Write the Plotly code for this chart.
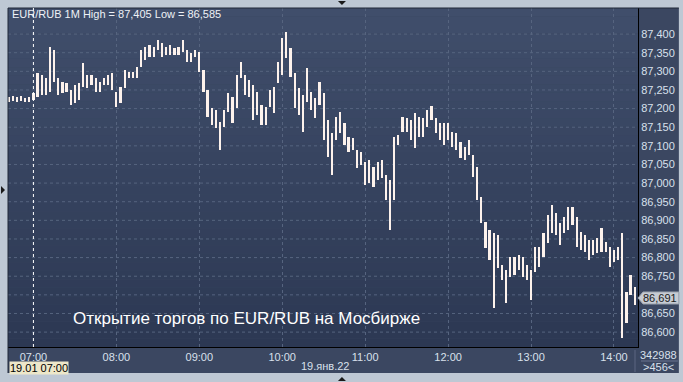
import plotly.graph_objects as go
import pandas as pd

# ---------------- data (3-minute high/low ranges) ----------------
start_time = "2022-01-19 06:42"
highs = [
    87.231, 87.234, 87.231, 87.234, 87.228, 87.231, 87.242, 87.295, 87.290, 87.282,
    87.365, 87.357, 87.282, 87.271, 87.268, 87.250, 87.263, 87.268, 87.322, 87.290,
    87.290, 87.282, 87.271, 87.282, 87.290, 87.295, 87.244, 87.258, 87.303, 87.298,
    87.298, 87.311, 87.357, 87.365, 87.370, 87.365, 87.384, 87.376, 87.365, 87.370,
    87.362, 87.365, 87.384, 87.357, 87.349, 87.357, 87.352, 87.303, 87.250, 87.201,
    87.196, 87.164, 87.196, 87.242, 87.231, 87.290, 87.325, 87.290, 87.277, 87.263,
    87.244, 87.209, 87.204, 87.250, 87.258, 87.325, 87.389, 87.405, 87.362, 87.295,
    87.255, 87.236, 87.309, 87.244, 87.228, 87.271, 87.242, 87.169, 87.134, 87.177,
    87.191, 87.161, 87.123, 87.121, 87.089, 87.083, 87.056, 87.062, 87.043, 87.056,
    87.062, 87.021, 87.008, 87.123, 87.129, 87.177, 87.175, 87.169, 87.188, 87.177,
    87.175, 87.196, 87.207, 87.175, 87.161, 87.161, 87.161, 87.137, 87.134, 87.110,
    87.097, 87.115, 87.075, 87.043, 86.962, 86.895, 86.874, 86.866, 86.860, 86.780,
    86.766, 86.801, 86.801, 86.807, 86.801, 86.780, 86.766, 86.828, 86.828, 86.866,
    86.914, 86.941, 86.919, 86.893, 86.909, 86.936, 86.936, 86.909, 86.868, 86.860,
    86.847, 86.847, 86.852, 86.879, 86.842, 86.828, 86.820, 86.828, 86.866, 86.707,
    86.753, 86.721,
]
lows = [
    87.217, 87.220, 87.217, 87.220, 87.217, 87.217, 87.223, 87.231, 87.236, 87.236,
    87.244, 87.271, 87.236, 87.242, 87.244, 87.209, 87.215, 87.223, 87.258, 87.255,
    87.263, 87.244, 87.244, 87.263, 87.263, 87.250, 87.204, 87.215, 87.255, 87.282,
    87.282, 87.282, 87.311, 87.330, 87.338, 87.338, 87.357, 87.338, 87.344, 87.344,
    87.344, 87.344, 87.352, 87.325, 87.325, 87.338, 87.298, 87.244, 87.177, 87.156,
    87.148, 87.089, 87.150, 87.191, 87.161, 87.201, 87.282, 87.236, 87.231, 87.169,
    87.183, 87.156, 87.156, 87.204, 87.188, 87.268, 87.290, 87.336, 87.285, 87.201,
    87.183, 87.137, 87.217, 87.196, 87.175, 87.209, 87.115, 87.070, 87.021, 87.115,
    87.134, 87.102, 87.083, 87.089, 87.040, 87.048, 86.995, 87.000, 86.989, 87.008,
    87.013, 86.954, 86.874, 86.954, 87.102, 87.137, 87.137, 87.115, 87.094, 87.123,
    87.123, 87.150, 87.169, 87.134, 87.115, 87.102, 87.115, 87.097, 87.089, 87.067,
    87.062, 87.075, 87.016, 86.954, 86.893, 86.825, 86.793, 86.664, 86.772, 86.740,
    86.678, 86.748, 86.753, 86.766, 86.748, 86.740, 86.686, 86.761, 86.774, 86.801,
    86.839, 86.866, 86.860, 86.833, 86.866, 86.874, 86.887, 86.828, 86.820, 86.815,
    86.793, 86.807, 86.812, 86.815, 86.815, 86.774, 86.788, 86.793, 86.585, 86.624,
    86.699, 86.672,
]
last_price = 86.691
# price-axis labels (86,700 is hidden behind the last-price box)
ytick_vals = [86.600, 86.650, 86.750, 86.800, 86.850, 86.900, 86.950, 87.000,
              87.050, 87.100, 87.150, 87.200, 87.250, 87.300, 87.350, 87.400]
grid_vals = [86.600, 86.650, 86.700, 86.750, 86.800, 86.850, 86.900, 86.950, 87.000,
             87.050, 87.100, 87.150, 87.200, 87.250, 87.300, 87.350, 87.400]
volume_text = "342988"
count_text = ">456<"
title_text = "EUR/RUB 1M High = 87,405 Low = 86,585"
caption_text = "Открытие торгов по EUR/RUB на Мосбирже"
date_text = "19.янв.22"
cursor_text = "19.01 07:00"
cursor_time = "2022-01-19 07:00"

times = pd.date_range(start_time, periods=len(highs), freq="3min")
spans = [h - l for h, l in zip(highs, lows)]

# ---------------- geometry helpers (pixel -> paper) ----------------
W, H = 683, 382
L, R, T, B = 8, 640, 8, 347


def px(x):
    return (x - L) / (R - L)


def py(y):
    return (B - y) / (B - T)


fig = go.Figure()
fig.add_trace(go.Bar(
    x=times, y=spans, base=lows,
    width=95000,
    marker=dict(color="#fdf2ec", line=dict(width=0)),
    hoverinfo="skip",
))

shapes = []
# dark frame / axis panels
shapes.append(dict(type="rect", xref="paper", yref="paper", layer="below",
                   x0=px(8), x1=px(681), y0=py(373), y1=py(8),
                   fillcolor="#3b4761", line=dict(width=0)))
# vertical gradient of plot area
nb = 40
c_top = (0x40, 0x4e, 0x6b)
c_bot = (0x2c, 0x38, 0x53)
for i in range(nb):
    t = (i + 0.5) / nb
    c = tuple(int(round(a + (b - a) * t)) for a, b in zip(c_top, c_bot))
    shapes.append(dict(type="rect", xref="paper", yref="paper", layer="below",
                       x0=0, x1=1, y0=1 - (i + 1) / nb, y1=1 - i / nb,
                       fillcolor="rgb(%d,%d,%d)" % c, line=dict(width=0)))
# horizontal dashed grid at every 0.05
for g in grid_vals:
    shapes.append(dict(type="line", xref="paper", yref="y", layer="below",
                       x0=0, x1=1, y0=g, y1=g,
                       line=dict(color="#56647f", width=1, dash="3px,3px")))
# frame edges
shapes.append(dict(type="line", xref="paper", yref="paper", x0=px(8), x1=px(8),
                   y0=py(373), y1=py(8), line=dict(color="#202838", width=1)))
shapes.append(dict(type="line", xref="paper", yref="paper", x0=px(8), x1=px(681),
                   y0=py(8), y1=py(8), line=dict(color="#202838", width=1)))
# separators in bottom/right panels
shapes.append(dict(type="line", xref="paper", yref="paper", x0=px(637), x1=px(637),
                   y0=py(350), y1=py(372), line=dict(color="#5c6782", width=1)))
shapes.append(dict(type="line", xref="paper", yref="paper", x0=px(643), x1=px(680),
                   y0=py(361), y1=py(361), line=dict(color="#6a7590", width=1)))
# dotted cursor line at 07:00
shapes.append(dict(type="line", xref="x", yref="paper", x0=cursor_time, x1=cursor_time,
                   y0=0, y1=1, line=dict(color="#ffffff", width=1, dash="dot")))
# price label box with arrow
path = "M %f %f L %f %f L %f %f L %f %f L %f %f Z" % (
    px(640), py(298), px(645), py(292), px(681), py(292), px(681), py(304), px(645), py(304))
shapes.append(dict(type="path", xref="paper", yref="paper", path=path,
                   fillcolor="#c6cbd3", line=dict(color="#9aa2ae", width=1)))
# small navigation triangles in the outer border
for pts in ([(339, 1), (347, 1), (343, 5)],
            [(339, 381), (347, 381), (343, 377)],
            [(1, 186), (1, 194), (5, 190)]):
    p = "M %f %f L %f %f L %f %f Z" % (px(pts[0][0]), py(pts[0][1]), px(pts[1][0]), py(pts[1][1]),
                                       px(pts[2][0]), py(pts[2][1]))
    shapes.append(dict(type="path", xref="paper", yref="paper", path=p,
                       fillcolor="#1a1a1a", line=dict(width=0)))

font_family = "Liberation Sans, Arial, sans-serif"
ann = []
ann.append(dict(text=title_text, xref="paper", yref="paper", x=px(10), y=py(14),
                xanchor="left", yanchor="middle", showarrow=False,
                font=dict(family=font_family, size=11, color="#eef1f6")))
ann.append(dict(text=caption_text, xref="paper", yref="paper", x=px(247), y=py(318),
                xanchor="center", yanchor="middle", showarrow=False,
                font=dict(family=font_family, size=17, color="#ffffff")))
ann.append(dict(text=date_text, xref="paper", yref="paper", x=px(326), y=py(366),
                xanchor="center", yanchor="middle", showarrow=False,
                font=dict(family=font_family, size=11, color="#d8e0ec")))
ann.append(dict(text=cursor_text, xref="paper", yref="paper", x=px(9), y=py(368),
                xanchor="left", yanchor="middle", showarrow=False, bgcolor="#ede7c9",
                borderpad=0, font=dict(family=font_family, size=11, color="#000000")))
ann.append(dict(text=volume_text, xref="paper", yref="paper", x=px(661), y=py(355),
                xanchor="center", yanchor="middle", showarrow=False,
                font=dict(family=font_family, size=11, color="#d8e0ec")))
ann.append(dict(text=count_text, xref="paper", yref="paper", x=px(661), y=py(367),
                xanchor="center", yanchor="middle", showarrow=False,
                font=dict(family=font_family, size=11, color="#d8e0ec")))
ann.append(dict(text=("%.3f" % last_price).replace(".", ","), xref="paper", yref="paper",
                x=px(662), y=py(298), xanchor="center", yanchor="middle", showarrow=False,
                font=dict(family=font_family, size=11, color="#1a1a1a")))

fig.update_layout(
    width=W, height=H,
    margin=dict(l=L, r=W - R, t=T, b=H - B),
    paper_bgcolor="#bec8d4",
    plot_bgcolor="rgba(0,0,0,0)",
    separators=",.",
    showlegend=False,
    bargap=0,
    shapes=shapes,
    annotations=ann,
    xaxis=dict(
        type="date",
        range=["2022-01-19 06:41:37", "2022-01-19 14:17:23"],
        tick0="2022-01-19 07:00", dtick=3600000, tickformat="%H:%M",
        showgrid=True, gridcolor="#56647f", griddash="3px,3px", gridwidth=1,
        showline=True, linecolor="#000000", linewidth=1,
        ticks="", tickfont=dict(family=font_family, size=11, color="#d8e0ec"),
        zeroline=False, fixedrange=True,
    ),
    yaxis=dict(
        side="right",
        range=[86.560, 87.470],
        tickmode="array", tickvals=ytick_vals, tickformat=".3f",
        showgrid=False,
        showline=True, linecolor="#000000", linewidth=1,
        ticks="", tickfont=dict(family=font_family, size=11, color="#d8e0ec"),
        zeroline=False, fixedrange=True,
    ),
)

fig.write_html("out.html")
